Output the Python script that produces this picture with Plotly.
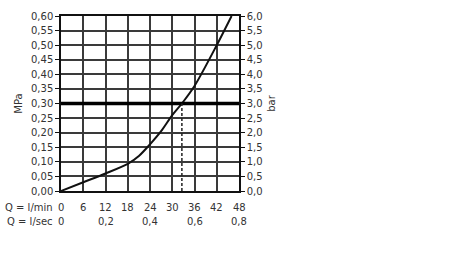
import plotly.graph_objects as go

flow_lpm = [0, 6, 12, 18, 21, 24, 27, 30, 32.6, 36, 42, 46]
pressure_mpa = [0, 0.03, 0.06, 0.093, 0.12, 0.16, 0.205, 0.26, 0.30, 0.36, 0.50, 0.60]
lpm_ticks = [0, 6, 12, 18, 24, 30, 36, 42, 48]
lps_ticks = [0, 12, 24, 36, 48]
lps_labels = ["0", "0,2", "0,4", "0,6", "0,8"]
ref_pressure = 0.30
ref_flow = 32.6

fig = go.Figure()
grid_col = "#3a3a3a"
font = dict(family="DejaVu Sans", size=10, color="#333")

fig.add_trace(go.Scatter(x=flow_lpm, y=pressure_mpa, mode="lines",
                         line=dict(color="#111", width=2, shape="spline", smoothing=0.8),
                         showlegend=False, hoverinfo="skip"))
fig.add_trace(go.Scatter(x=[0, 48], y=[ref_pressure, ref_pressure], mode="lines",
                         line=dict(color="#000", width=3.5), showlegend=False, hoverinfo="skip"))
fig.add_trace(go.Scatter(x=[ref_flow, ref_flow], y=[0, ref_pressure], mode="lines",
                         line=dict(color="#222", width=1.5, dash="3px,2px"), showlegend=False,
                         hoverinfo="skip"))
fig.add_trace(go.Scatter(x=[0], y=[0], yaxis="y2", mode="markers", marker=dict(opacity=0),
                         showlegend=False, hoverinfo="skip"))

fig.update_layout(
    width=450, height=262,
    margin=dict(l=61, r=211, t=10, b=71),
    paper_bgcolor="white", plot_bgcolor="white",
    separators=",.",
    font=font,
    xaxis=dict(range=[0, 48], tickvals=lpm_ticks, showticklabels=False,
               showgrid=True, gridcolor=grid_col, gridwidth=1.5,
               showline=True, linecolor="#111", linewidth=1.5, mirror=True,
               zeroline=False, ticks=""),
    yaxis=dict(range=[0, 0.6], dtick=0.05, tickformat=".2f",
               showgrid=True, gridcolor=grid_col, gridwidth=1.5,
               showline=True, linecolor="#111", linewidth=1.5,
               ticks="outside", ticklen=4, tickcolor="#111", zeroline=False,
               title=dict(text="MPa", standoff=6, font=dict(size=10))),
    yaxis2=dict(range=[0, 6], dtick=0.5, tickformat=".1f", overlaying="y", side="right",
                showgrid=False, showline=True, linecolor="#111", linewidth=1.5,
                ticks="outside", ticklen=4, tickcolor="#111", zeroline=False,
                title=dict(text="bar", standoff=6, font=dict(size=10))),
)

for v in lpm_ticks:
    fig.add_annotation(x=v, y=0, xref="x", yref="paper", yanchor="middle", yshift=-16,
                       text=str(v), showarrow=False, font=font)
fig.add_annotation(x=0, y=0, xref="paper", yref="paper", yanchor="middle", xshift=-6, yshift=-16,
                   text="Q = l/min", showarrow=False, xanchor="right", font=font)
for v, t in zip(lps_ticks, lps_labels):
    fig.add_annotation(x=v, y=0, xref="x", yref="paper", yanchor="middle", yshift=-30,
                       text=t, showarrow=False, font=font)
fig.add_annotation(x=0, y=0, xref="paper", yref="paper", yanchor="middle", xshift=-6, yshift=-30,
                   text="Q = l/sec", showarrow=False, xanchor="right", font=font)

fig.write_html("out.html")
